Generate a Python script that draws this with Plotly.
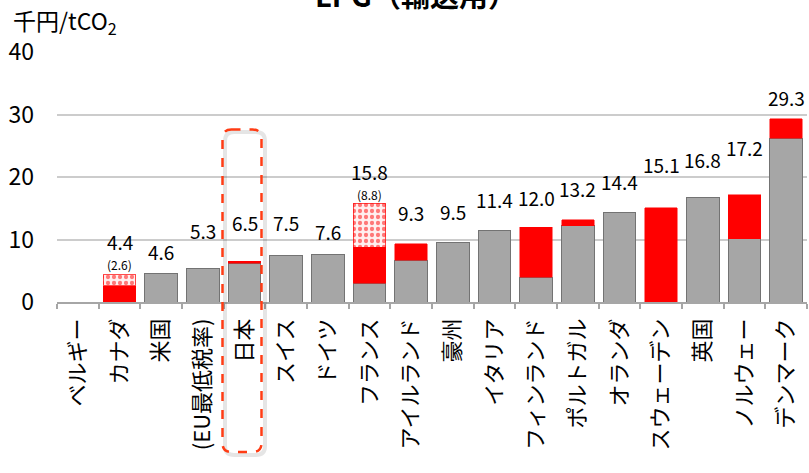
import plotly.graph_objects as go

# Countries (categories along the x axis)
countries = ["ベルギー", "カナダ", "米国", "(EU最低税率)", "日本", "スイス", "ドイツ",
             "フランス", "アイルランド", "豪州", "イタリア", "フィンランド", "ポルトガル",
             "オランダ", "スウェーデン", "英国", "ノルウェー", "デンマーク"]

# Total tax burden per country (千円/tCO2)
totals = [0, 4.4, 4.6, 5.3, 6.5, 7.5, 7.6, 15.8, 9.3, 9.5, 11.4, 12.0, 13.2,
          14.4, 15.1, 16.8, 17.2, 29.3]

# Energy tax part (gray)
energy_tax = [0, 0, 4.6, 5.3, 6.2, 7.5, 7.6, 3.0, 6.7, 9.5, 11.4, 4.0, 12.2,
              14.4, 0, 16.8, 10.1, 26.2]

# Top of the carbon-tax part (shown in parentheses where a range exists)
carbon_upper = [0, 2.6, 4.6, 5.3, 6.5, 7.5, 7.6, 8.8, 9.3, 9.5, 11.4, 12.0, 13.2,
                14.4, 15.1, 16.8, 17.2, 29.3]
paren_labels = {1: "(2.6)", 7: "(8.8)"}

# Extra lift (px) of each value label above its bar
label_lift = [0, 33, 22, 38, 39, 33, 23, 32, 31, 31, 31, 30, 31, 31, 43, 38, 47, 21]

# Derived stacks
carbon_tax = [u - g for u, g in zip(carbon_upper, energy_tax)]
carbon_range = [t - u for t, u in zip(totals, carbon_upper)]


def nz(vals):
    return [round(v, 2) if v > 1e-9 else None for v in vals]


FONT = "Noto Sans CJK JP"
GRAY = "#a6a6a6"
RED = "#ff0000"

fig = go.Figure()
fig.add_trace(go.Bar(
    x=countries, y=nz(energy_tax), name="エネルギー税",
    marker=dict(color=GRAY, line=dict(color="#737373", width=1)),
))
fig.add_trace(go.Bar(
    x=countries, y=nz(carbon_tax), name="炭素税",
    marker=dict(color=RED, line=dict(color=RED, width=0.5)),
))
fig.add_trace(go.Bar(
    x=countries, y=nz(carbon_range), name="炭素税（幅）",
    marker=dict(color="white",
                line=dict(color="rgba(255,0,0,0.7)", width=1),
                pattern=dict(shape=".", fgcolor=RED, bgcolor="#fff0f0",
                             size=6, solidity=0.4)),
))

# Value labels above each bar
for i, (c, t) in enumerate(zip(countries, totals)):
    if t <= 0:
        continue
    fig.add_annotation(x=c, y=t, text=f"{t:.1f}", showarrow=False,
                       yanchor="middle", yshift=label_lift[i], borderpad=0,
                       font=dict(family=FONT, size=19, color="#000"))
    if i in paren_labels:
        fig.add_annotation(x=c, y=t, text=paren_labels[i], showarrow=False,
                           yanchor="middle", yshift=label_lift[i] - 23,
                           borderpad=0,
                           font=dict(family=FONT, size=12, color="#000"))

# Plot-area geometry in pixels (used to place decorations in paper units)
W, H = 809, 473
ML, MR, MT, MB = 57, 2, 52, 171
PW, PH = W - ML - MR, H - MT - MB


def px(xp):
    return (xp - ML) / PW


def py(yp):
    return (H - MB - yp) / PH


# Title (partly above the page edge)
fig.add_annotation(xref="paper", yref="paper", x=px(416), y=py(17),
                   text="<b>LPG（輸送用）</b>", showarrow=False,
                   xanchor="center", yanchor="bottom",
                   font=dict(family=FONT, size=29, color="#000"))

# Unit label
fig.add_annotation(xref="paper", yref="paper", x=px(11), y=py(22),
                   text="千円/tCO<sub>2</sub>", showarrow=False,
                   xanchor="left", yanchor="middle",
                   font=dict(family=FONT, size=23, color="#000"))


def rounded_rect(x0, y0, x1, y1, r):
    rx, ry = r / PW, r / PH
    a0, a1 = px(x0), px(x1)
    b0, b1 = py(y1), py(y0)  # bottom, top in paper units
    return (f"M{a0 + rx},{b1} L{a1 - rx},{b1} Q{a1},{b1} {a1},{b1 - ry} "
            f"L{a1},{b0 + ry} Q{a1},{b0} {a1 - rx},{b0} L{a0 + rx},{b0} "
            f"Q{a0},{b0} {a0},{b0 + ry} L{a0},{b1 - ry} Q{a0},{b1} {a0 + rx},{b1} Z")


# Highlight frame around Japan (with a soft shadow)
fig.add_shape(type="path", xref="paper", yref="paper",
              path=rounded_rect(225, 132, 265, 455, 9),
              line=dict(color="rgba(0,0,0,0.10)", width=4))
fig.add_shape(type="path", xref="paper", yref="paper",
              path=rounded_rect(222.5, 129.5, 261.5, 452, 9),
              line=dict(color="#ff3c14", width=2.5, dash="dash"))

fig.update_layout(
    width=W, height=H,
    margin=dict(l=ML, r=MR, t=MT, b=MB),
    barmode="stack", bargap=0.22,
    showlegend=False,
    plot_bgcolor="white", paper_bgcolor="white",
    font=dict(family=FONT, color="#000"),
)
fig.update_xaxes(
    type="category", tickangle=-90,
    tickfont=dict(family=FONT, size=22, color="#000"),
    showline=True, linecolor="#a6a6a6", linewidth=1.5,
    ticks="outside", tickson="boundaries", ticklen=5, tickcolor="#a6a6a6",
    tickwidth=1.5, showgrid=False, ticklabelstandoff=6,
    range=[-0.5, len(countries) - 0.5],
)
fig.update_yaxes(
    range=[0, 40], dtick=10, tick0=0,
    tickfont=dict(family=FONT, size=23, color="#000"),
    showgrid=True, gridcolor="#cccccc", gridwidth=1.5,
    zeroline=False, showline=False, ticks="", ticklabelstandoff=22,
)

fig.write_html("out.html")
